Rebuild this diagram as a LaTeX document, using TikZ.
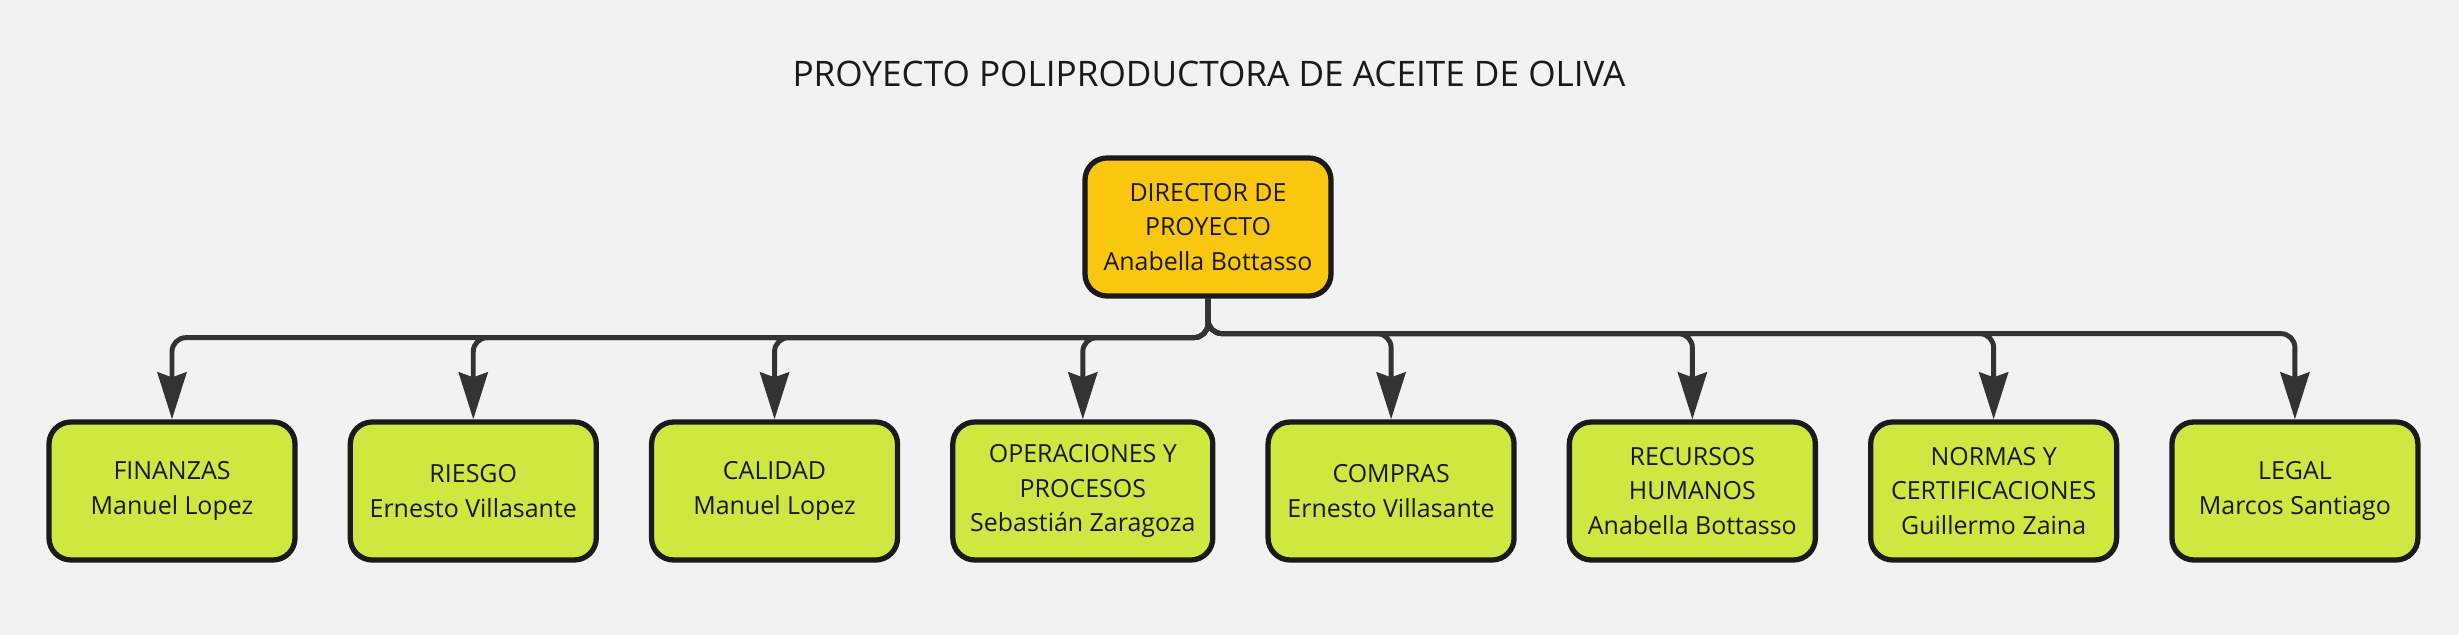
\documentclass[tikz,border=0pt]{standalone}
\usepackage{fontspec}
\setmainfont{Open Sans}
\usetikzlibrary{positioning,arrows.meta}
\definecolor{mirobg}{HTML}{F2F2F2}
\definecolor{miroyellow}{HTML}{FAC710}
\definecolor{mirolime}{HTML}{CEE741}
\definecolor{miroline}{HTML}{333333}
\definecolor{miroink}{HTML}{1A1A1A}
\tikzset{
  dirbox/.style={draw=miroink, line width=1.5pt, rounded corners=0.22cm, fill=miroyellow, align=center, minimum width=2.46cm, minimum height=1.38cm, inner sep=0pt, text=miroink, font=\fontsize{7.1}{9.9}\selectfont},
  areabox/.style={draw=miroink, line width=1.5pt, rounded corners=0.22cm, fill=mirolime, align=center, minimum width=2.46cm, minimum height=1.38cm, inner sep=0pt, text=miroink, font=\fontsize{7.1}{9.9}\selectfont},
  arrow/.style={-{Stealth[length=4.7mm,width=2.9mm,inset=0.5mm]}, line width=1.4pt, miroline, rounded corners=0.14cm},
  titlebox/.style={text=miroink, font=\fontsize{10}{12}\selectfont, inner sep=0pt}
}
\begin{document}
\begin{tikzpicture}[node distance=0.5cm]
    \fill[mirobg] (0,0) rectangle (24.59,6.35);
    \useasboundingbox (0,0) rectangle (24.59,6.35);
    \node[titlebox] (title) at (12.09,5.61) {PROYECTO POLIPRODUCTORA DE ACEITE DE OLIVA};
    \node[dirbox] (dir) at (12.08,4.08) {DIRECTOR DE\\PROYECTO\\Anabella Bottasso};
    \node[areabox] (fin) at (1.72,1.44) {FINANZAS\\Manuel Lopez};
    \node[areabox, right=of fin] (rie) {RIESGO\\Ernesto Villasante};
    \node[areabox, right=of rie] (cal) {CALIDAD\\Manuel Lopez};
    \node[areabox, minimum width=2.6cm, right=of cal] (ope) {OPERACIONES Y\\PROCESOS\\Sebastián Zaragoza};
    \node[areabox, right=of ope] (com) {COMPRAS\\Ernesto Villasante};
    \node[areabox, right=of com] (rrhh) {RECURSOS\\HUMANOS\\Anabella Bottasso};
    \node[areabox, right=of rrhh] (nor) {NORMAS Y\\CERTIFICACIONES\\Guillermo Zaina};
    \node[areabox, right=of nor] (leg) {LEGAL\\Marcos Santiago};
    \draw[arrow] (dir.south) -- ++(0,-0.39) -| (fin.north);
    \draw[arrow] (dir.south) -- ++(0,-0.39) -| (rie.north);
    \draw[arrow] (dir.south) -- ++(0,-0.39) -| (cal.north);
    \draw[arrow] (dir.south) -- ++(0,-0.39) -| (ope.north);
    \draw[arrow] (dir.south) -- ++(0,-0.35) -| (com.north);
    \draw[arrow] (dir.south) -- ++(0,-0.35) -| (rrhh.north);
    \draw[arrow] (dir.south) -- ++(0,-0.35) -| (nor.north);
    \draw[arrow] (dir.south) -- ++(0,-0.35) -| (leg.north);
  \end{tikzpicture}
\end{document}
